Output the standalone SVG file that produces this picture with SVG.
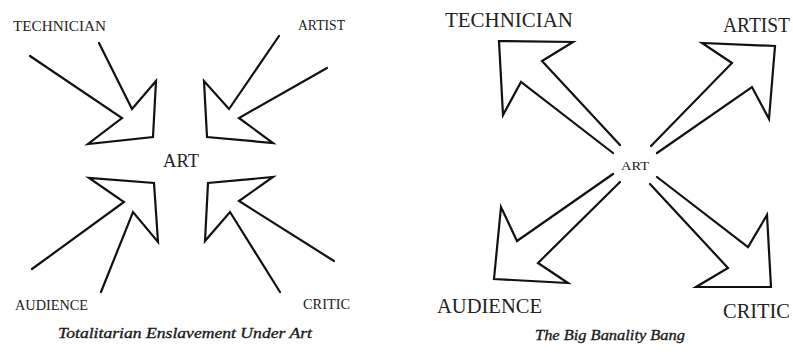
<svg xmlns="http://www.w3.org/2000/svg" width="793" height="354" viewBox="0 0 793 354">
<style>
.t{font-family:"Liberation Serif","Times New Roman",serif;fill:#222}
.c{font-family:"Liberation Serif","Times New Roman",serif;font-style:italic;fill:#1a1a1a;stroke:#1a1a1a;stroke-width:0.35}
.a{fill:none;stroke:#111;stroke-width:2.2;stroke-linejoin:miter;stroke-linecap:round}
</style>
<rect width="793" height="354" fill="#fff"/>
<g id="left-diagram">
  <g id="l-technician"><text class="t" x="13" y="31" font-size="15" textLength="93" lengthAdjust="spacingAndGlyphs">TECHNICIAN</text></g>
  <g id="l-artist"><text class="t" x="298" y="30" font-size="15" textLength="47" lengthAdjust="spacingAndGlyphs">ARTIST</text></g>
  <g id="l-art"><text class="t" x="163" y="167" font-size="19" textLength="36" lengthAdjust="spacingAndGlyphs">ART</text></g>
  <g id="l-audience"><text class="t" x="15" y="310" font-size="15" textLength="73" lengthAdjust="spacingAndGlyphs">AUDIENCE</text></g>
  <g id="l-critic"><text class="t" x="303" y="309" font-size="15" textLength="47" lengthAdjust="spacingAndGlyphs">CRITIC</text></g>
  <g id="l-caption"><text class="c" x="58" y="338" font-size="15" textLength="254" lengthAdjust="spacingAndGlyphs">Totalitarian Enslavement Under Art</text></g>
  <g id="l-connectors">
    <polyline class="a" points="30,56 122,118 88,144 153,137 156,81 132,109 99,43"/>
    <polyline class="a" points="279,36 229,109 204,81 207,137 273,143 239,118 327,68"/>
    <polyline class="a" points="32,269 124,202 89,178 154,183 158,242 133,212 101,292"/>
    <polyline class="a" points="280,292 230,212 205,241 208,183 273,177 239,201 334,261"/>
  </g>
</g>
<g id="right-diagram">
  <g id="r-technician"><text class="t" x="445" y="27" font-size="21" textLength="128" lengthAdjust="spacingAndGlyphs">TECHNICIAN</text></g>
  <g id="r-artist"><text class="t" x="723" y="32" font-size="20" textLength="67" lengthAdjust="spacingAndGlyphs">ARTIST</text></g>
  <g id="r-art"><text class="t" x="621" y="170" font-size="13" textLength="28" lengthAdjust="spacingAndGlyphs">ART</text></g>
  <g id="r-audience"><text class="t" x="437" y="313" font-size="20" textLength="105" lengthAdjust="spacingAndGlyphs">AUDIENCE</text></g>
  <g id="r-critic"><text class="t" x="723" y="318" font-size="20" textLength="67" lengthAdjust="spacingAndGlyphs">CRITIC</text></g>
  <g id="r-caption"><text class="c" x="535" y="340" font-size="15" textLength="150" lengthAdjust="spacingAndGlyphs">The Big Banality Bang</text></g>
  <g id="r-connectors">
    <polyline class="a" points="613,153 521,82 503,115 499,41 573,42 542,61 620,145"/>
    <polyline class="a" points="651,146 732,63 702,43 775,46 769,119 752,87 657,153"/>
    <polyline class="a" points="613,174 517,241 501,207 494,279 568,283 538,263 620,182"/>
    <polyline class="a" points="650,184 728,268 696,287 771,287 767,215 748,247 657,177"/>
  </g>
</g>
</svg>
